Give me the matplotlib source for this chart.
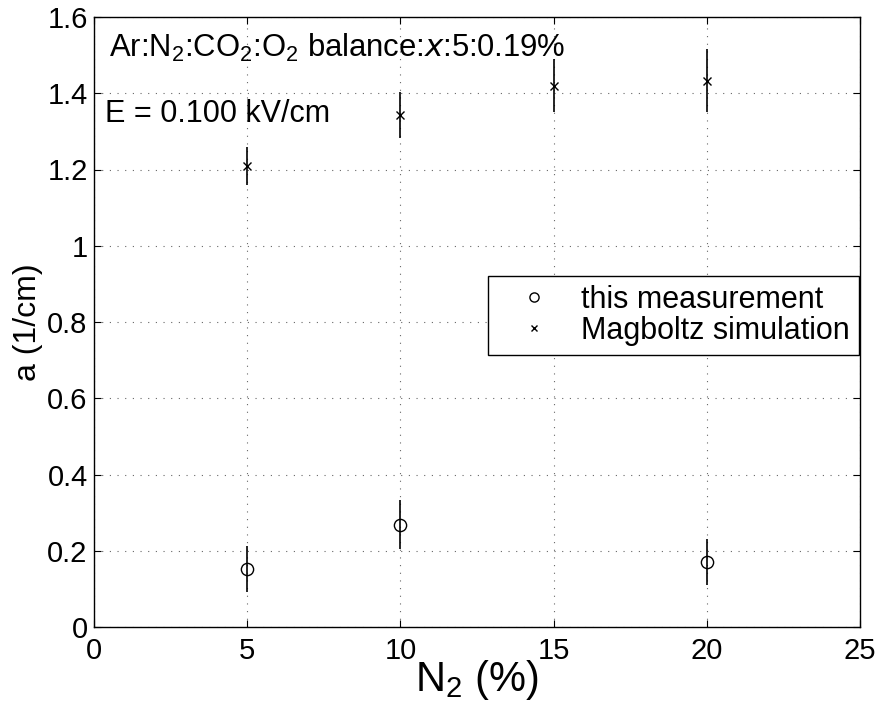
import matplotlib
matplotlib.use("Agg")
import matplotlib.pyplot as plt

plt.rcParams['font.family'] = ['Liberation Sans', 'DejaVu Sans']
plt.rcParams['mathtext.default'] = 'regular'

# data
meas_x = [5, 10, 20]
meas_y = [0.152, 0.268, 0.170]
meas_err = [0.060, 0.064, 0.060]

sim_x = [5, 10, 15, 20]
sim_y = [1.209, 1.343, 1.420, 1.433]
sim_err = [0.050, 0.060, 0.070, 0.083]

xticks = [0, 5, 10, 15, 20, 25]
yticks = [0, 0.2, 0.4, 0.6, 0.8, 1.0, 1.2, 1.4, 1.6]
ytick_labels = ['0', '0.2', '0.4', '0.6', '0.8', '1', '1.2', '1.4', '1.6']

fig = plt.figure(figsize=(8.89, 7.17), dpi=100)
ax = fig.add_axes([94/889, 90/717, (860-94)/889, (627-17)/717])

ax.errorbar(meas_x, meas_y, yerr=meas_err, fmt='none', ecolor='black', elinewidth=1.2)
ax.errorbar(sim_x, sim_y, yerr=sim_err, fmt='none', ecolor='black', elinewidth=1.2)
ax.plot(meas_x, meas_y, linestyle='none', marker='o', markersize=8.8, markerfacecolor='none',
        markeredgecolor='black', markeredgewidth=1.0, label='this measurement')
ax.plot(sim_x, sim_y, linestyle='none', marker='x', markersize=6, color='black',
        markeredgewidth=1.0, label='Magboltz simulation')

ax.set_xlim(0, 25)
ax.set_ylim(0, 1.6)
ax.set_xticks(xticks)
ax.set_yticks(yticks)
ax.set_yticklabels(ytick_labels)
ax.tick_params(direction='in', length=5, width=0.8, top=True, right=True,
               labelsize=21)
ax.tick_params(axis='x', pad=7)
ax.tick_params(axis='y', pad=4.5)
ax.grid(True, linestyle=(0, (1, 5.9)), color='black', linewidth=0.8, alpha=0.6)
for s in ax.spines.values():
    s.set_linewidth(1.0)

ax.set_xlabel('N$_2$ (%)', fontsize=30)
ax.xaxis.set_label_coords(0.5, -0.05)
ax.set_ylabel('a (1/cm)', fontsize=23)
ax.yaxis.set_label_coords(-0.067, 0.5)

ax.text(0.019, 0.934, 'Ar:N$_2$:CO$_2$:O$_2$ balance:$\\mathit{x}$:5:0.19%', transform=ax.transAxes,
        fontsize=22.3, va='baseline', ha='left')
ax.text(0.015, 0.828, 'E = 0.100 kV/cm', transform=ax.transAxes,
        fontsize=22, va='baseline', ha='left')

leg = ax.legend(loc='upper right', bbox_to_anchor=(0.999, 0.5754), fontsize=22, frameon=True,
                fancybox=False, edgecolor='black', framealpha=1, handlelength=2.4,
                handletextpad=0.35, borderpad=0.3, labelspacing=0.02, borderaxespad=0.0,
                markerscale=0.75)
leg.get_frame().set_linewidth(1.0)

fig.savefig('out.png', dpi=100)
